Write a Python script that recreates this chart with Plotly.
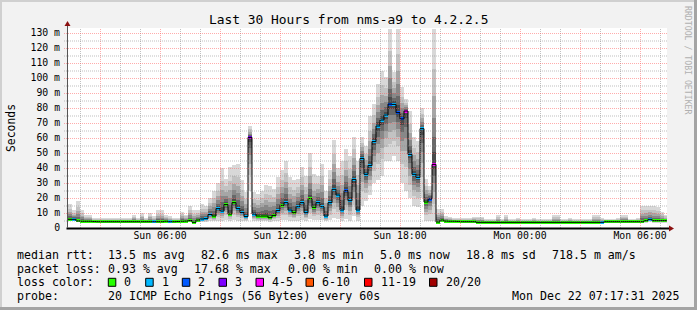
import plotly.graph_objects as go
from datetime import datetime, timedelta

# ---------------- data ----------------
title_text = "Last 30 Hours from nms-a9 to 4.2.2.5"
y_label = "Seconds"
y_tick_values = [0, 10, 20, 30, 40, 50, 60, 70, 80, 90, 100, 110, 120, 130]
y_tick_labels = ["0", "10 m", "20 m", "30 m", "40 m", "50 m", "60 m", "70 m",
                 "80 m", "90 m", "100 m", "110 m", "120 m", "130 m"]
y_minor_values = [5, 15, 25, 35, 45, 55, 65, 75, 85, 95, 105, 115, 125]
x_tick_times = ["2025-12-21 03:00", "2025-12-21 06:00", "2025-12-21 09:00",
                "2025-12-21 12:00", "2025-12-21 15:00", "2025-12-21 18:00",
                "2025-12-21 21:00", "2025-12-22 00:00", "2025-12-22 03:00",
                "2025-12-22 06:00"]
x_tick_labels = ["", "Sun 06:00", "", "Sun 12:00", "", "Sun 18:00", "",
                 "Mon 00:00", "", "Mon 06:00"]
x_minor_first = "2025-12-21 02:00"
x_minor_hours = 30

view_start = "2025-12-21 01:21"
view_end = "2025-12-22 07:21"
first_step = "2025-12-21 01:24"
step_minutes = 12

# median rtt per 12-minute step (ms)
median_ms = [
    5.8, 5.8, 4.7, 4.5, 4.5, 4.5, 4.3, 4.2, 4.2, 4.2,
    4.2, 4.2, 4.2, 4.2, 4.2, 4.2, 4.2, 4.2, 4.2, 4.2,
    4.2, 4.2, 4.2, 4.2, 4.5, 4.2, 4.2, 4.3, 4.5, 4.6,
    5.0, 3.8, 5.3, 6.0, 6.2, 9.0, 8.0, 12.9, 11.3, 15.6,
    9.3, 16.9, 12.9, 10.4, 7.6, 60.4, 9.3, 8.0, 8.0, 8.0,
    6.9, 8.4, 11.6, 15.1, 16.9, 12.0, 10.2, 14.2, 16.9, 10.2,
    19.6, 13.8, 16.9, 14.2, 8.0, 16.9, 25.8, 22.0, 12.0, 24.9,
    18.2, 32.4, 12.0, 46.4, 35.8, 41.6, 57.6, 68.0, 72.0, 75.3,
    82.6, 82.4, 76.9, 72.7, 78.0, 49.1, 35.8, 33.8, 66.2, 17.3,
    19.3, 42.4, 4.0, 5.3, 4.6, 4.5, 4.5, 4.4, 4.2, 4.2,
    4.2, 4.2, 3.8, 3.8, 3.8, 3.8, 3.8, 3.8, 3.8, 3.8,
    3.8, 3.8, 3.8, 3.8, 3.8, 3.8, 3.8, 3.8, 3.8, 3.8,
    3.8, 3.8, 3.8, 3.8, 3.8, 3.8, 3.8, 3.8, 3.8, 3.8,
    3.8, 3.8, 3.8, 3.8, 4.2, 4.2, 4.2, 4.2, 4.2, 4.2,
    4.2, 4.2, 4.2, 4.2, 4.9, 5.8, 4.9, 4.9, 4.9, 4.9,
]

# lost pings (of 20) per step
loss_count = [
    0, 1, 0, 0, 0, 0, 0, 0, 0, 0,
    0, 0, 0, 0, 0, 0, 0, 0, 0, 0,
    0, 1, 0, 0, 0, 1, 0, 0, 0, 0,
    0, 0, 0, 1, 1, 1, 0, 1, 1, 0,
    0, 0, 1, 1, 1, 3, 1, 0, 0, 0,
    0, 0, 1, 0, 1, 1, 0, 1, 1, 1,
    0, 0, 1, 1, 1, 1, 1, 1, 1, 2,
    1, 1, 1, 1, 1, 1, 1, 1, 1, 1,
    2, 1, 2, 2, 4, 1, 1, 1, 1, 0,
    2, 4, 0, 0, 0, 0, 0, 0, 0, 0,
    0, 0, 0, 0, 0, 0, 0, 0, 0, 0,
    0, 0, 0, 0, 0, 0, 0, 0, 0, 0,
    0, 0, 0, 0, 0, 0, 0, 0, 0, 0,
    0, 0, 0, 1, 0, 0, 0, 0, 0, 0,
    0, 0, 0, 0, 0, 1, 0, 0, 0, 0,
]

# highest ping per step (ms)
smoke_hi = [
    16, 12, 18, 12, 9, 9, 7, 7, 7, 6.5,
    6.5, 6.5, 6.5, 6.5, 6.5, 7, 9, 7, 10, 7,
    10, 8, 12, 12, 9, 8, 7, 7, 11, 9,
    15, 12, 12, 16, 15, 20, 25, 30, 40, 33,
    41, 42, 43, 32, 24, 68, 24, 23, 25, 29,
    28, 26, 34, 39, 45, 34, 32, 33, 41, 35,
    50, 36, 35, 43, 25, 39, 59, 40, 45, 53,
    48, 61, 45, 61, 55, 75, 83, 96, 105, 101,
    133, 104, 133, 94, 86, 78, 61, 58, 80, 33,
    28, 133, 13, 13, 8, 7.5, 6.5, 6.5, 6.5, 6.5,
    6.5, 7.5, 7.5, 7.5, 6, 6, 6, 8.7, 6, 8.7,
    6, 6, 6.5, 6, 6, 6, 6.5, 6, 6, 6,
    6, 8.7, 8.7, 6, 6, 6.5, 6, 6, 6, 6,
    6, 8.7, 8.7, 6.5, 6, 6, 6, 6.5, 8.7, 8.7,
    6, 6, 7, 15, 15, 15, 15, 14, 11, 9,
]

# lowest ping per step (ms)
smoke_lo = [
    4.5, 4.5, 3.8, 3.4, 3.4, 3.4, 3.4, 3.4, 3.4, 3.4,
    3.4, 3.4, 3.4, 3.4, 3.4, 3.4, 3.4, 3.4, 3.4, 3.4,
    3.4, 3.4, 3.4, 3.4, 3.4, 3.4, 3.4, 3.4, 3.4, 3.4,
    3.8, 3.2, 3.8, 4.0, 4.0, 4.5, 4.5, 5, 5, 5.5,
    5, 5.5, 5, 5, 4.5, 25, 4.5, 4.5, 4.5, 4.5,
    4.2, 4.5, 5, 5.5, 5.5, 5, 5, 5, 5.5, 5,
    6, 5.5, 5.5, 5.5, 4.5, 5.5, 7, 6, 4.5, 6,
    5, 8, 5, 15, 18, 22, 30, 32, 35, 45,
    45, 48, 45, 30, 25, 20, 15, 14, 20, 4.5,
    5, 5, 3.3, 3.8, 3.2, 3.2, 3.2, 3.2, 3.2, 3.2,
    3.2, 3.2, 3.2, 3.2, 3.2, 3.2, 3.2, 3.2, 3.2, 3.2,
    3.2, 3.2, 3.2, 3.2, 3.2, 3.2, 3.2, 3.2, 3.2, 3.2,
    3.2, 3.2, 3.2, 3.2, 3.2, 3.2, 3.2, 3.2, 3.2, 3.2,
    3.2, 3.2, 3.2, 3.2, 3.2, 3.2, 3.2, 3.2, 3.2, 3.2,
    3.2, 3.2, 3.2, 3.5, 3.5, 4, 3.5, 3.5, 3.5, 3.5,
]

loss_legend_labels = ["0", "1", "2", "3", "4-5", "6-10", "11-19", "20/20"]
loss_legend_colors = ["#26ff00", "#00b8ff", "#0059ff", "#7e00ff",
                      "#ff00ff", "#ff5500", "#ff0000", "#a10000"]

stats_rtt = ["13.5 ms avg", "82.6 ms max", "3.8 ms min", "5.0 ms now",
             "18.8 ms sd", "718.5 m am/s"]
stats_loss = ["0.93 % avg", "17.68 % max", "0.00 % min", "0.00 % now"]
probe_text = "20 ICMP Echo Pings (56 Bytes) every 60s"
stamp_text = "Mon Dec 22 07:17:31 2025"
watermark = "RRDTOOL / TOBI OETIKER"

# ---------------- geometry / style ----------------
W, H = 697, 310
PL, PR, PT, PB = 67, 667, 28, 228
Y_TOP = 133.33
MONO = "DejaVu Sans Mono"
BG = "#f2f2f2"
GRID_MAJOR = "rgba(255,90,90,0.5)"
GRID_MINOR = "rgba(140,140,140,0.55)"
PX_MS = Y_TOP / (PB - PT)      # ms per pixel
HALF_PX_T = timedelta(seconds=90)  # half pixel in time


def fx(px):
    return (px - PL) / (PR - PL)


def fy(py):
    return (PB - py) / (PB - PT)


def loss_color(n):
    if n <= 0:
        return loss_legend_colors[0]
    if n == 1:
        return loss_legend_colors[1]
    if n == 2:
        return loss_legend_colors[2]
    if n == 3:
        return loss_legend_colors[3]
    if n <= 5:
        return loss_legend_colors[4]
    if n <= 10:
        return loss_legend_colors[5]
    if n <= 19:
        return loss_legend_colors[6]
    return loss_legend_colors[7]


t0 = datetime.strptime(first_step, "%Y-%m-%d %H:%M")
step = timedelta(minutes=step_minutes)
n = len(median_ms)
starts = [t0 + i * step for i in range(n)]
centers = [s + step / 2 for s in starts]
width_ms = step_minutes * 60 * 1000

fig = go.Figure()

# smoke layers: outermost (light) to innermost (dark)
layers = [(1.0, "#d8d8d8"), (0.7, "#c2c2c2"), (0.5, "#a6a6a6"),
          (0.34, "#888888"), (0.2, "#686868"), (0.09, "#4a4a4a")]
for frac, col in layers:
    base = [m - frac * (m - lo) for m, lo in zip(median_ms, smoke_lo)]
    top = [m + frac * (hi - m) for m, hi in zip(median_ms, smoke_hi)]
    fig.add_trace(go.Bar(
        x=centers, base=base, y=[t - b for t, b in zip(top, base)],
        width=width_ms, marker=dict(color=col, line=dict(width=0)),
        hoverinfo="skip"))

# median line
fig.add_trace(go.Scatter(
    x=starts + [starts[-1] + step], y=median_ms + [median_ms[-1]],
    mode="lines", line=dict(color="black", width=1, shape="hv"),
    hoverinfo="skip"))

# loss-coloured median tiles
half = 1.0
fig.add_trace(go.Bar(
    x=centers, base=[m - half for m in median_ms], y=[2 * half] * n,
    width=width_ms,
    marker=dict(color=[loss_color(c) for c in loss_count], line=dict(width=0)),
    hoverinfo="skip"))

fig.update_layout(
    width=W, height=H, autosize=False,
    margin=dict(l=PL, r=W - PR, t=PT, b=H - PB, pad=0),
    paper_bgcolor=BG, plot_bgcolor="white",
    showlegend=False, barmode="overlay", bargap=0,
    font=dict(family=MONO, color="black"),
    xaxis=dict(
        type="date", range=[view_start, view_end],
        tickvals=x_tick_times, ticktext=x_tick_labels,
        showgrid=False, ticks="", ticklabelstandoff=0,
        tickfont=dict(family=MONO, size=9.8, color="black"),
        showline=False, zeroline=False, fixedrange=True),
    yaxis=dict(
        range=[0, Y_TOP], tickvals=y_tick_values, ticktext=y_tick_labels,
        showgrid=False, ticks="outside", ticklen=4, tickcolor="rgba(0,0,0,0)",
        tickfont=dict(family=MONO, size=9.8, color="black"),
        showline=False, zeroline=False, fixedrange=True),
)

shapes = []
# grid (drawn over the data, as rrdtool does)
t_minor0 = datetime.strptime(x_minor_first, "%Y-%m-%d %H:%M")
major_times = [datetime.strptime(s, "%Y-%m-%d %H:%M") for s in x_tick_times]
for h in range(x_minor_hours):
    t = t_minor0 + timedelta(hours=h)
    if t in major_times:
        continue
    shapes.append(dict(type="line", xref="x", yref="paper", x0=t + HALF_PX_T,
                       x1=t + HALF_PX_T, y0=0, y1=1, layer="above",
                       line=dict(color=GRID_MINOR, width=1, dash="1px,1px")))
for t in major_times:
    shapes.append(dict(type="line", xref="x", yref="paper", x0=t + HALF_PX_T,
                       x1=t + HALF_PX_T, y0=0, y1=1, layer="above",
                       line=dict(color=GRID_MAJOR, width=1, dash="1px,1px")))
for v in y_minor_values:
    yv = v - PX_MS / 2
    shapes.append(dict(type="line", xref="paper", yref="y", x0=fx(PL - 3), x1=1,
                       y0=yv, y1=yv, layer="above",
                       line=dict(color=GRID_MINOR, width=1, dash="1px,1px")))
for v in y_tick_values[1:]:
    yv = v - PX_MS / 2
    shapes.append(dict(type="line", xref="paper", yref="y", x0=fx(PL - 3), x1=1,
                       y0=yv, y1=yv, layer="above",
                       line=dict(color=GRID_MAJOR, width=1, dash="1px,1px")))

# 3D frame
shapes.append(dict(type="rect", xref="paper", yref="paper", x0=fx(0), x1=fx(W),
                   y0=fy(0), y1=fy(2), fillcolor="#d0d0d0", line=dict(width=0)))
shapes.append(dict(type="rect", xref="paper", yref="paper", x0=fx(0), x1=fx(2),
                   y0=fy(0), y1=fy(H), fillcolor="#d0d0d0", line=dict(width=0)))
shapes.append(dict(type="rect", xref="paper", yref="paper", x0=fx(0), x1=fx(W),
                   y0=fy(H - 3), y1=fy(H), fillcolor="#a4a4a4", line=dict(width=0)))
shapes.append(dict(type="rect", xref="paper", yref="paper", x0=fx(W - 3), x1=fx(W),
                   y0=fy(0), y1=fy(H), fillcolor="#a4a4a4", line=dict(width=0)))
# axes
shapes.append(dict(type="line", xref="paper", yref="paper", x0=fx(PL - 0.5), x1=fx(PR + 3),
                   y0=fy(PB + 0.5), y1=fy(PB + 0.5), line=dict(color="black", width=2)))
shapes.append(dict(type="line", xref="paper", yref="paper", x0=fx(PL + 0.5), x1=fx(PL + 0.5),
                   y0=fy(PB), y1=fy(PT - 4), line=dict(color="#555555", width=1)))
# arrow heads
shapes.append(dict(type="path", xref="paper", yref="paper",
                   path=f"M {fx(PL - 2.5)} {fy(PT - 2)} L {fx(PL + 3.5)} {fy(PT - 2)} L {fx(PL + 0.5)} {fy(PT - 7)} Z",
                   fillcolor="#8b1010", line=dict(width=0)))
shapes.append(dict(type="path", xref="paper", yref="paper",
                   path=f"M {fx(PR + 2)} {fy(PB - 2.5)} L {fx(PR + 2)} {fy(PB + 3.5)} L {fx(PR + 7)} {fy(PB + 0.5)} Z",
                   fillcolor="#8b1010", line=dict(width=0)))

annotations = []


def txt(x, y, s, size=11.6, anchor="left", color="black", angle=0):
    annotations.append(dict(
        xref="paper", yref="paper", x=fx(x), y=fy(y), text=s, showarrow=False,
        xanchor=anchor, yanchor="middle", borderpad=0, textangle=angle,
        font=dict(family=MONO, size=size, color=color)))


txt(348.5, 19, title_text, size=12.9, anchor="center")
txt(11, 128, y_label, size=11.4, anchor="center", angle=-90)
txt(688, 60, watermark, size=8.2, anchor="center", color="#b0b0b0", angle=90)

L1, L2, L3, L4 = 254.5, 268.5, 282.3, 296.2
txt(15.5, L1, "median rtt:")
for xp, s in zip([107.3, 200, 293.3, 379.3, 465, 550.7], stats_rtt):
    txt(xp, L1, s)
txt(15.5, L2, "packet loss:")
for xp, s in zip([107.3, 193, 286.7, 372.7], stats_loss):
    txt(xp, L2, s)
txt(15.5, L3, "loss color:")
box_x = [108.3, 145.7, 182.3, 219, 256, 306, 364.5, 429.5]
for bx, lab, col in zip(box_x, loss_legend_labels, loss_legend_colors):
    shapes.append(dict(type="rect", xref="paper", yref="paper",
                       x0=fx(bx), x1=fx(bx + 7.5), y0=fy(L3 + 4), y1=fy(L3 - 4),
                       fillcolor=col, line=dict(color="black", width=1)))
    txt(bx + 15, L3, lab)
txt(15.5, L4, "probe:")
txt(107.3, L4, probe_text)
txt(681, L4, stamp_text, anchor="right")

fig.update_layout(shapes=shapes, annotations=annotations)
fig.write_html("out.html", config={"displayModeBar": False})
